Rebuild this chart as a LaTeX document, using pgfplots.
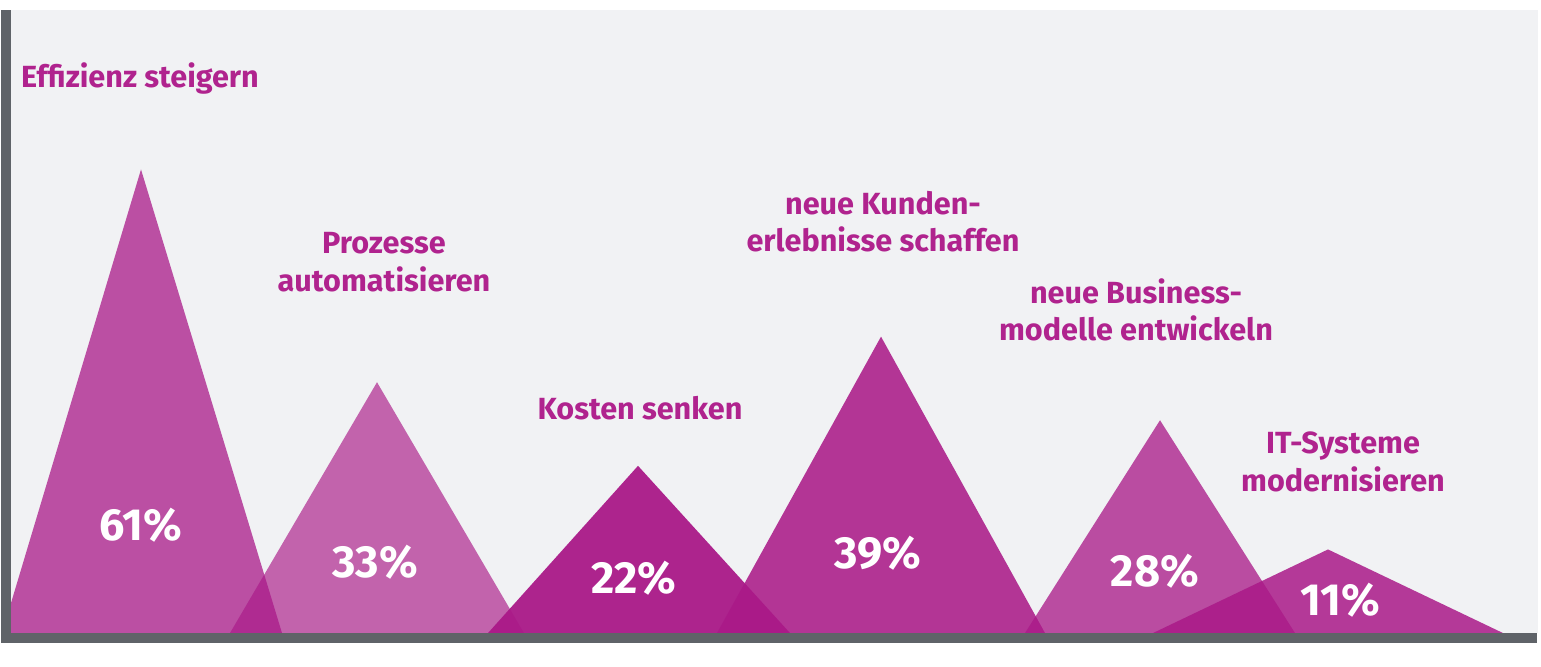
\documentclass[border=0pt]{standalone}
\usepackage{pgfplots}
\pgfplotsset{compat=1.18}
\usepackage{fontspec}
\setmainfont{Fira Sans}
\definecolor{bg}{HTML}{F1F2F4}
\definecolor{mag}{RGB}{170,25,136}
\definecolor{lbl}{HTML}{B0238E}
\definecolor{barc}{HTML}{5F6368}
\tikzset{
  lab/.style={font=\bfseries\fontsize{15.3}{18.75}\selectfont, text=lbl, align=center},
  pct/.style={font=\bfseries\fontsize{22.5}{22.5}\selectfont, text=white},
}
\begin{document}
\begin{tikzpicture}
\begin{axis}[
  scale only axis, width=764pt, height=311.5pt,
  xmin=10, xmax=1538, ymin=0, ymax=81.97,
  axis line style={draw=none}, ticks=none,
  axis background/.style={fill=bg},
  clip mode=individual,
]
\addplot[draw=none, fill=mag, fill opacity=0.75] coordinates {(2,0) (141,61) (282,0)} \closedcycle;
\addplot[draw=none, fill=mag, fill opacity=0.66] coordinates {(230,0) (377,33) (524,0)} \closedcycle;
\addplot[draw=none, fill=mag, fill opacity=0.95] coordinates {(488,0) (638,22) (790,0)} \closedcycle;
\addplot[draw=none, fill=mag, fill opacity=0.87] coordinates {(717,0) (881,39) (1045,0)} \closedcycle;
\addplot[draw=none, fill=mag, fill opacity=0.76] coordinates {(1025,0) (1160,28) (1295,0)} \closedcycle;
\addplot[draw=none, fill=mag, fill opacity=0.85] coordinates {(1153,0) (1328,11) (1503,0)} \closedcycle;

\node[pct] at (axis cs:141,14.2) {61\%};
\node[pct] at (axis cs:375,9.3) {33\%};
\node[pct] at (axis cs:634,7.2) {22\%};
\node[pct] at (axis cs:878,10.5) {39\%};
\node[pct] at (axis cs:1155,8.2) {28\%};
\node[pct] at (axis cs:1340,4.3) {11\%};

\node[lab] at (axis cs:140,72.9) {Effizienz steigern};
\node[lab] at (axis cs:384,48.8) {Prozesse\\automatisieren};
\node[lab] at (axis cs:640,29.6) {Kosten senken};
\node[lab] at (axis cs:883,54.1) {neue Kunden-\\erlebnisse schaffen};
\node[lab] at (axis cs:1136,42.5) {neue Business-\\modelle entwickeln};
\node[lab] at (axis cs:1343,22.5) {IT-Systeme\\modernisieren};

\fill[barc] (axis cs:1,-1.32) rectangle (axis cs:11,81.97);
\fill[barc] (axis cs:1,-1.32) rectangle (axis cs:1537,0);
\path (axis cs:0,-4.34) rectangle (axis cs:1541,83.29);
\end{axis}
\end{tikzpicture}
\end{document}
